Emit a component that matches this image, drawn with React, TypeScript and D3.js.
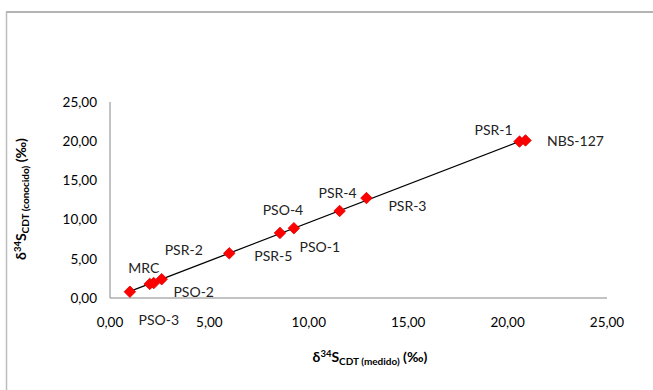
import * as d3 from "d3";

// muestras: valor medido vs. valor conocido (δ34S CDT, ‰)
const samples = ["MRC", "PSO-3", "PSR-2", "PSO-2", "PSR-5", "PSO-4", "PSO-1", "PSR-4", "PSR-3", "PSR-1", "NBS-127"];
const medido = [1.0, 2.0, 2.2, 2.6, 6.0, 8.55, 9.25, 11.55, 12.9, 20.6, 20.9];
const conocido = [0.8, 1.8, 1.9, 2.4, 5.7, 8.3, 8.9, 11.1, 12.75, 19.95, 20.1];
const ticks = [0, 5, 10, 15, 20, 25];

// where each label sits relative to its point (px)
const labelOffsets: [number, number][] = [
  [14, -24], [9, 36], [30, -33], [32, 13], [44, 3], [3, -23],
  [26, 19], [-2, -18], [41, 8], [-26, -11], [50, 1],
];

const W = 653;
const H = 390;
const margin = { top: 102, right: 46, bottom: 92, left: 110 };
const font = "Lato, 'Open Sans', sans-serif";
const fmt = (v: number) => d3.format(".2f")(v).replace(".", ",");

export default function App() {
  const x = d3.scaleLinear().domain([0, 25]).range([margin.left, W - margin.right]);
  const y = d3.scaleLinear().domain([0, 25]).range([H - margin.bottom, margin.top]);

  const pts = medido.map((m, i) => ({ name: samples[i], x: m, y: conocido[i] }));

  // linear trendline (least squares)
  const mx = d3.mean(medido)!;
  const my = d3.mean(conocido)!;
  const slope =
    d3.sum(pts, (p) => (p.x - mx) * (p.y - my)) / d3.sum(pts, (p) => (p.x - mx) ** 2);
  const icpt = my - slope * mx;
  const [x0, x1] = d3.extent(medido) as [number, number];
  const trend = d3
    .line<number>()
    .x((d) => x(d))
    .y((d) => y(slope * d + icpt))([x0, x1]);

  const diamond = d3.symbol(d3.symbolSquare, 66)()!;

  return (
    <svg width={W} height={H} style={{ position: "absolute", left: 0, top: 0, background: "#fff" }}>
      {/* chart frame (only top/left visible) */}
      <line x1={6} x2={W} y1={12} y2={12} stroke="#9a9a9a" strokeWidth={1.5} />
      <line x1={6.5} x2={6.5} y1={12} y2={H} stroke="#bdbdbd" strokeWidth={1.5} />

      {/* axes */}
      <line x1={x(0)} x2={x(0)} y1={y(25)} y2={y(0)} stroke="#868686" />
      <line x1={x(0)} x2={x(25)} y1={y(0)} y2={y(0)} stroke="#868686" />

      <g fontFamily={font} fontSize={13.5} fill="#000">
        {ticks.map((t) => (
          <text key={"y" + t} x={x(0) - 13} y={y(t)} dy="0.35em" textAnchor="end">
            {fmt(t)}
          </text>
        ))}
        {ticks.map((t) => (
          <text key={"x" + t} x={x(t)} y={y(0) + 24} dy="0.35em" textAnchor="middle">
            {fmt(t)}
          </text>
        ))}
      </g>

      <path d={trend!} stroke="#000" strokeWidth={1.3} fill="none" />

      {pts.map((p) => (
        <path
          key={p.name}
          d={diamond}
          transform={`translate(${x(p.x)},${y(p.y)}) rotate(45)`}
          fill="#ff0000"
          stroke="#e00000"
          strokeWidth={0.8}
        />
      ))}

      <g fontFamily={font} fontSize={14} fill="#222">
        {pts.map((p, i) => (
          <text
            key={"l" + p.name}
            x={x(p.x) + labelOffsets[i][0]}
            y={y(p.y) + labelOffsets[i][1]}
            dy="0.35em"
            textAnchor="middle"
          >
            {p.name}
          </text>
        ))}
      </g>

      {/* axis titles */}
      <text x={370} y={357} dy="0.35em" textAnchor="middle" fontFamily={font} fontWeight="bold" fontSize={14}>
        δ<tspan fontSize={9.5} dy={-5}>34</tspan>
        <tspan dy={5}>S</tspan>
        <tspan fontSize={10} dy={3}>CDT (medido)</tspan>
        <tspan dy={-3}> (‰)</tspan>
      </text>
      <text
        transform="translate(21,199) rotate(-90)"
        dy="0.35em"
        textAnchor="middle"
        fontFamily={font}
        fontWeight="bold"
        fontSize={14}
      >
        δ<tspan fontSize={9.5} dy={-5}>34</tspan>
        <tspan dy={5}>S</tspan>
        <tspan fontSize={10} dy={3}>CDT (conocido)</tspan>
        <tspan dy={-3}> (‰)</tspan>
      </text>
    </svg>
  );
}
